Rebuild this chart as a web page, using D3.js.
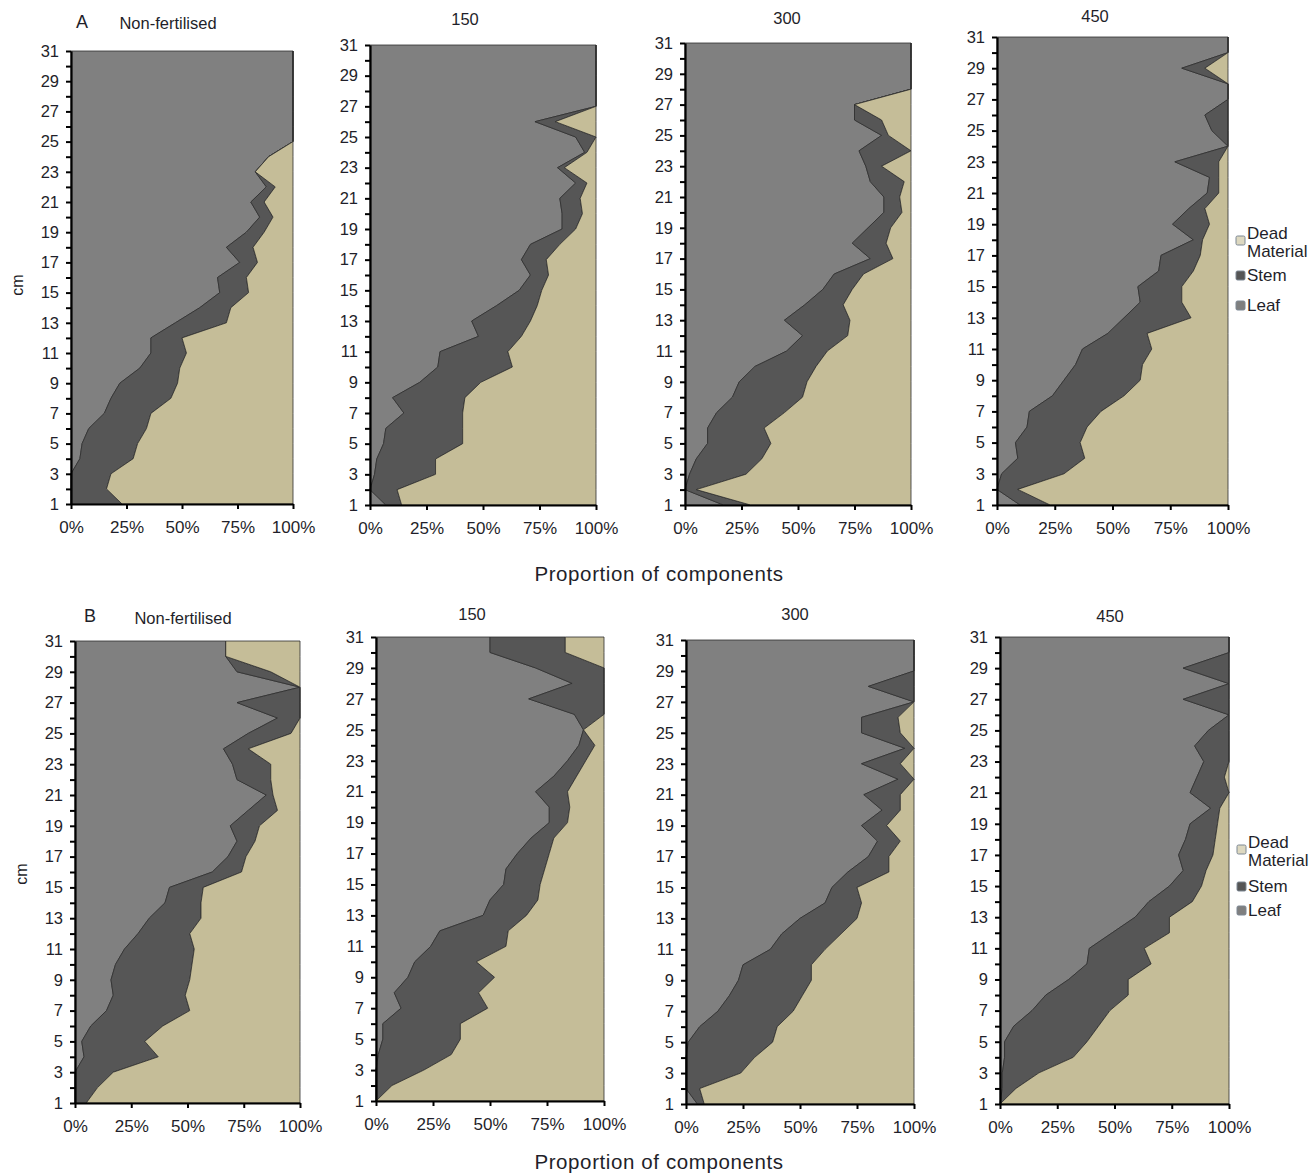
<!DOCTYPE html>
<html>
<head>
<meta charset="utf-8">
<script src="https://cdn.jsdelivr.net/npm/d3@7"></script>
<style>
  body { margin: 0; background: #fff; }
  svg text { font-family: "Liberation Sans", Arial, sans-serif; fill: #1f1f2a; }
</style>
</head>
<body>
<div id="chart"></div>
<script>
// depth classes (cm) and component proportions (%)
var cm = d3.range(1, 32);
var components = ["leaf", "stem", "dead"];
var legendLabels = [["Dead", "Material"], ["Stem"], ["Leaf"]];
var xTicks = [0, 25, 50, 75, 100];

// row A
var leafA1 = [0,0,0,4,5,8,15,18,22,31,36,36,47,58,67,66,76,70,79,85,81,88,83,89,100,100,100,100,100,100,100];
var stemA1 = [23,16,18,24,25,26,21,27,26,18,16,14,23,14,13,13,8,12,8,6,6,4,0,0,0,0,0,0,0,0,0];
var deadA1 = [77,84,82,72,70,66,64,55,52,51,48,50,30,28,20,21,16,18,13,9,13,8,17,11,0,0,0,0,0,0,0];

var leafA2 = [7,0,2,3,6,7,15,10,22,30,31,48,45,56,66,71,67,71,85,85,84,91,83,95,91,73,100,100,100,100,100];
var stemA2 = [7,12,27,26,35,34,26,32,27,33,30,19,26,18,10,8,11,13,6,9,9,5,3,1,9,9,0,0,0,0,0];
var deadA2 = [86,88,71,71,59,59,59,58,51,37,39,33,29,26,24,21,22,16,9,6,7,4,14,4,0,18,0,0,0,0,0];

var leafA3 = [17,0,2,5,10,10,14,21,24,31,45,52,44,53,61,66,82,74,81,88,88,82,80,77,87,75,75,100,100,100,100];
var stemA3 = [12,5,25,29,28,25,30,31,30,27,18,20,29,17,13,13,10,15,10,8,7,15,7,23,3,12,0,0,0,0,0];
var deadA3 = [71,95,73,66,62,65,56,48,46,42,37,28,27,30,26,21,8,11,9,4,5,3,13,0,10,13,25,0,0,0,0];

var leafA4 = [10,0,2,9,8,13,14,24,29,34,37,48,55,62,61,70,71,85,76,83,91,92,77,100,93,90,100,100,80,100,100];
var stemA4 = [13,9,27,29,28,26,31,31,33,29,30,17,29,18,19,15,17,4,16,7,5,4,19,0,7,10,0,0,10,0,0];
var deadA4 = [77,91,71,62,64,61,55,45,38,37,33,35,16,20,20,15,12,11,8,10,4,4,4,0,0,0,0,0,10,0,0];

// row B
var leafB1 = [0,0,0,4,3,7,14,17,16,18,22,28,33,40,42,61,68,72,69,77,85,72,70,66,77,90,72,100,72,67,67];
var stemB1 = [5,10,17,33,28,32,37,32,35,34,31,23,23,16,15,13,8,8,13,13,3,15,17,11,19,10,28,0,15,0,0];
var deadB1 = [95,90,83,63,69,61,49,51,49,48,47,49,44,44,43,26,24,20,18,10,12,13,13,23,4,0,0,0,13,33,33];

var leafB2 = [0,0,0,1,3,3,11,8,14,17,24,28,47,50,56,57,62,68,76,76,70,78,84,89,91,87,67,86,70,50,50];
var stemB2 = [0,7,21,32,34,34,38,37,38,27,33,30,19,21,16,17,14,10,8,9,14,10,8,7,0,13,33,14,30,33,33];
var deadB2 = [100,93,79,67,63,63,51,55,48,56,43,42,34,29,28,26,24,22,16,15,16,12,8,4,9,0,0,0,0,17,17];

var leafB3 = [5,0,0,0,1,6,14,19,23,25,37,42,50,61,64,71,80,84,77,86,78,93,77,96,77,77,100,80,100,100,100];
var stemB3 = [3,6,24,30,37,34,33,32,32,30,24,26,25,16,11,18,9,10,11,8,16,7,17,4,17,16,0,20,0,0,0];
var deadB3 = [92,94,76,70,62,60,53,49,45,45,39,32,25,23,25,11,11,6,12,6,6,0,6,0,6,7,0,0,0,0,0];

var leafB4 = [0,1,1,2,2,6,14,20,30,38,39,49,59,65,74,80,78,81,83,92,83,86,89,85,91,100,80,100,80,100,100];
var stemB4 = [0,6,16,30,36,37,34,36,26,28,24,25,15,19,14,10,15,13,12,4,17,12,11,15,9,0,20,0,20,0,0];
var deadB4 = [100,93,83,68,62,57,52,44,44,34,37,26,26,16,12,10,7,6,5,4,0,2,0,0,0,0,0,0,0,0,0];

var width = 1316, height = 1173;
var colors = { leaf: "#808080", stem: "#565656", dead: "#c5bd98" };
var legendColors = { leaf: "#7f7f7f", stem: "#555555", dead: "#ddd8c0" };

var svg = d3.select("#chart").append("svg")
  .attr("width", width)
  .attr("height", height);

// panel frames
var panels = [
  { title: "Non-fertilised", tx: 168, ty: 29, left: 71, right: 293, top: 51, bottom: 504, leaf: leafA1, stem: stemA1, dead: deadA1 },
  { title: "150", tx: 465, ty: 25, left: 370, right: 596, top: 45, bottom: 505, leaf: leafA2, stem: stemA2, dead: deadA2 },
  { title: "300", tx: 787, ty: 24, left: 685, right: 911, top: 43, bottom: 505, leaf: leafA3, stem: stemA3, dead: deadA3 },
  { title: "450", tx: 1095, ty: 22, left: 997, right: 1228, top: 37, bottom: 505, leaf: leafA4, stem: stemA4, dead: deadA4 },
  { title: "Non-fertilised", tx: 183, ty: 624, left: 75, right: 300, top: 641, bottom: 1103, leaf: leafB1, stem: stemB1, dead: deadB1 },
  { title: "150", tx: 472, ty: 620, left: 376, right: 604, top: 637, bottom: 1101, leaf: leafB2, stem: stemB2, dead: deadB2 },
  { title: "300", tx: 795, ty: 620, left: 686, right: 914, top: 640, bottom: 1104, leaf: leafB3, stem: stemB3, dead: deadB3 },
  { title: "450", tx: 1110, ty: 622, left: 1000, right: 1229, top: 637, bottom: 1104, leaf: leafB4, stem: stemB4, dead: deadB4 }
];

var stack = d3.stack().keys(components);

panels.forEach(function (p) {
  var rows = cm.map(function (c, i) {
    return { cm: c, leaf: p.leaf[i], stem: p.stem[i], dead: p.dead[i] };
  });

  var x = d3.scaleLinear().domain([0, 100]).range([p.left, p.right]);
  var y = d3.scaleLinear().domain([1, 31]).range([p.bottom, p.top]);

  var area = d3.area()
    .y(function (d) { return y(d.data.cm); })
    .x0(function (d) { return x(d[0]); })
    .x1(function (d) { return x(d[1]); });

  var g = svg.append("g");

  g.selectAll("path.layer")
    .data(stack(rows))
    .enter()
    .append("path")
    .attr("class", "layer")
    .attr("d", area)
    .attr("fill", function (d) { return colors[d.key]; })
    .attr("stroke", "#2e2e2e")
    .attr("stroke-width", 0.8)
    .attr("stroke-linejoin", "miter");

  var yAxis = d3.axisLeft(y)
    .tickValues(cm)
    .tickSize(5)
    .tickSizeOuter(0)
    .tickFormat(function (d) { return d % 2 === 1 ? d : ""; });

  var yg = g.append("g")
    .attr("transform", "translate(" + p.left + ",0)")
    .call(yAxis);
  yg.select(".domain").attr("stroke", "#000").attr("stroke-width", 2.2);
  yg.selectAll(".tick line").attr("stroke", "#000").attr("stroke-width", 2);
  yg.selectAll(".tick text")
    .attr("x", -12)
    .style("font-size", "16.5px")
    .style("font-family", "Liberation Sans, Arial, sans-serif");

  var xAxis = d3.axisBottom(x)
    .tickValues(xTicks)
    .tickSize(5)
    .tickSizeOuter(0)
    .tickFormat(function (d) { return d + "%"; });

  var xg = g.append("g")
    .attr("transform", "translate(0," + p.bottom + ")")
    .call(xAxis);
  xg.select(".domain").attr("stroke", "#000").attr("stroke-width", 2.2);
  xg.selectAll(".tick line").attr("stroke", "#000").attr("stroke-width", 2);
  xg.selectAll(".tick text")
    .attr("y", 17)
    .style("font-size", "17px")
    .style("font-family", "Liberation Sans, Arial, sans-serif");

  g.append("text")
    .attr("x", p.tx)
    .attr("y", p.ty)
    .attr("text-anchor", "middle")
    .style("font-size", "16.5px")
    .text(p.title);
});

// panel letters
svg.append("text").attr("x", 82).attr("y", 28).attr("text-anchor", "middle")
  .style("font-size", "18px").text("A");
svg.append("text").attr("x", 90).attr("y", 622).attr("text-anchor", "middle")
  .style("font-size", "18px").text("B");

// axis titles
[285, 874].forEach(function (cy, i) {
  var cx = i === 0 ? 18 : 22;
  svg.append("text")
    .attr("transform", "translate(" + (cx + 5) + "," + cy + ") rotate(-90)")
    .attr("text-anchor", "middle")
    .style("font-size", "16px")
    .text("cm");
});

[581, 1169].forEach(function (ty) {
  svg.append("text")
    .attr("x", 659)
    .attr("y", ty)
    .attr("text-anchor", "middle")
    .style("font-size", "20.5px")
    .style("letter-spacing", "0.6px")
    .text("Proportion of components");
});

// legends
var legends = [
  { x: 1236, rows: [240, 275, 305] },
  { x: 1237, rows: [849, 886, 910] }
];
var legendKeys = ["dead", "stem", "leaf"];

legends.forEach(function (l) {
  var lg = svg.append("g");
  legendKeys.forEach(function (k, i) {
    var cy = l.rows[i];
    lg.append("rect")
      .attr("x", l.x)
      .attr("y", cy - 4)
      .attr("width", 9)
      .attr("height", 9)
      .attr("rx", 1.5)
      .attr("fill", legendColors[k])
      .attr("stroke", "#7d8894")
      .attr("stroke-width", 1);
    var lines = legendLabels[i];
    if (lines.length === 2) {
      lg.append("text").attr("x", l.x + 11).attr("y", cy - 1.5)
        .style("font-size", "17px").text(lines[0]);
      lg.append("text").attr("x", l.x + 11).attr("y", cy + 17)
        .style("font-size", "17px").text(lines[1]);
    } else {
      lg.append("text").attr("x", l.x + 11).attr("y", cy + 6)
        .style("font-size", "17px").text(lines[0]);
    }
  });
});
</script>
</body>
</html>
